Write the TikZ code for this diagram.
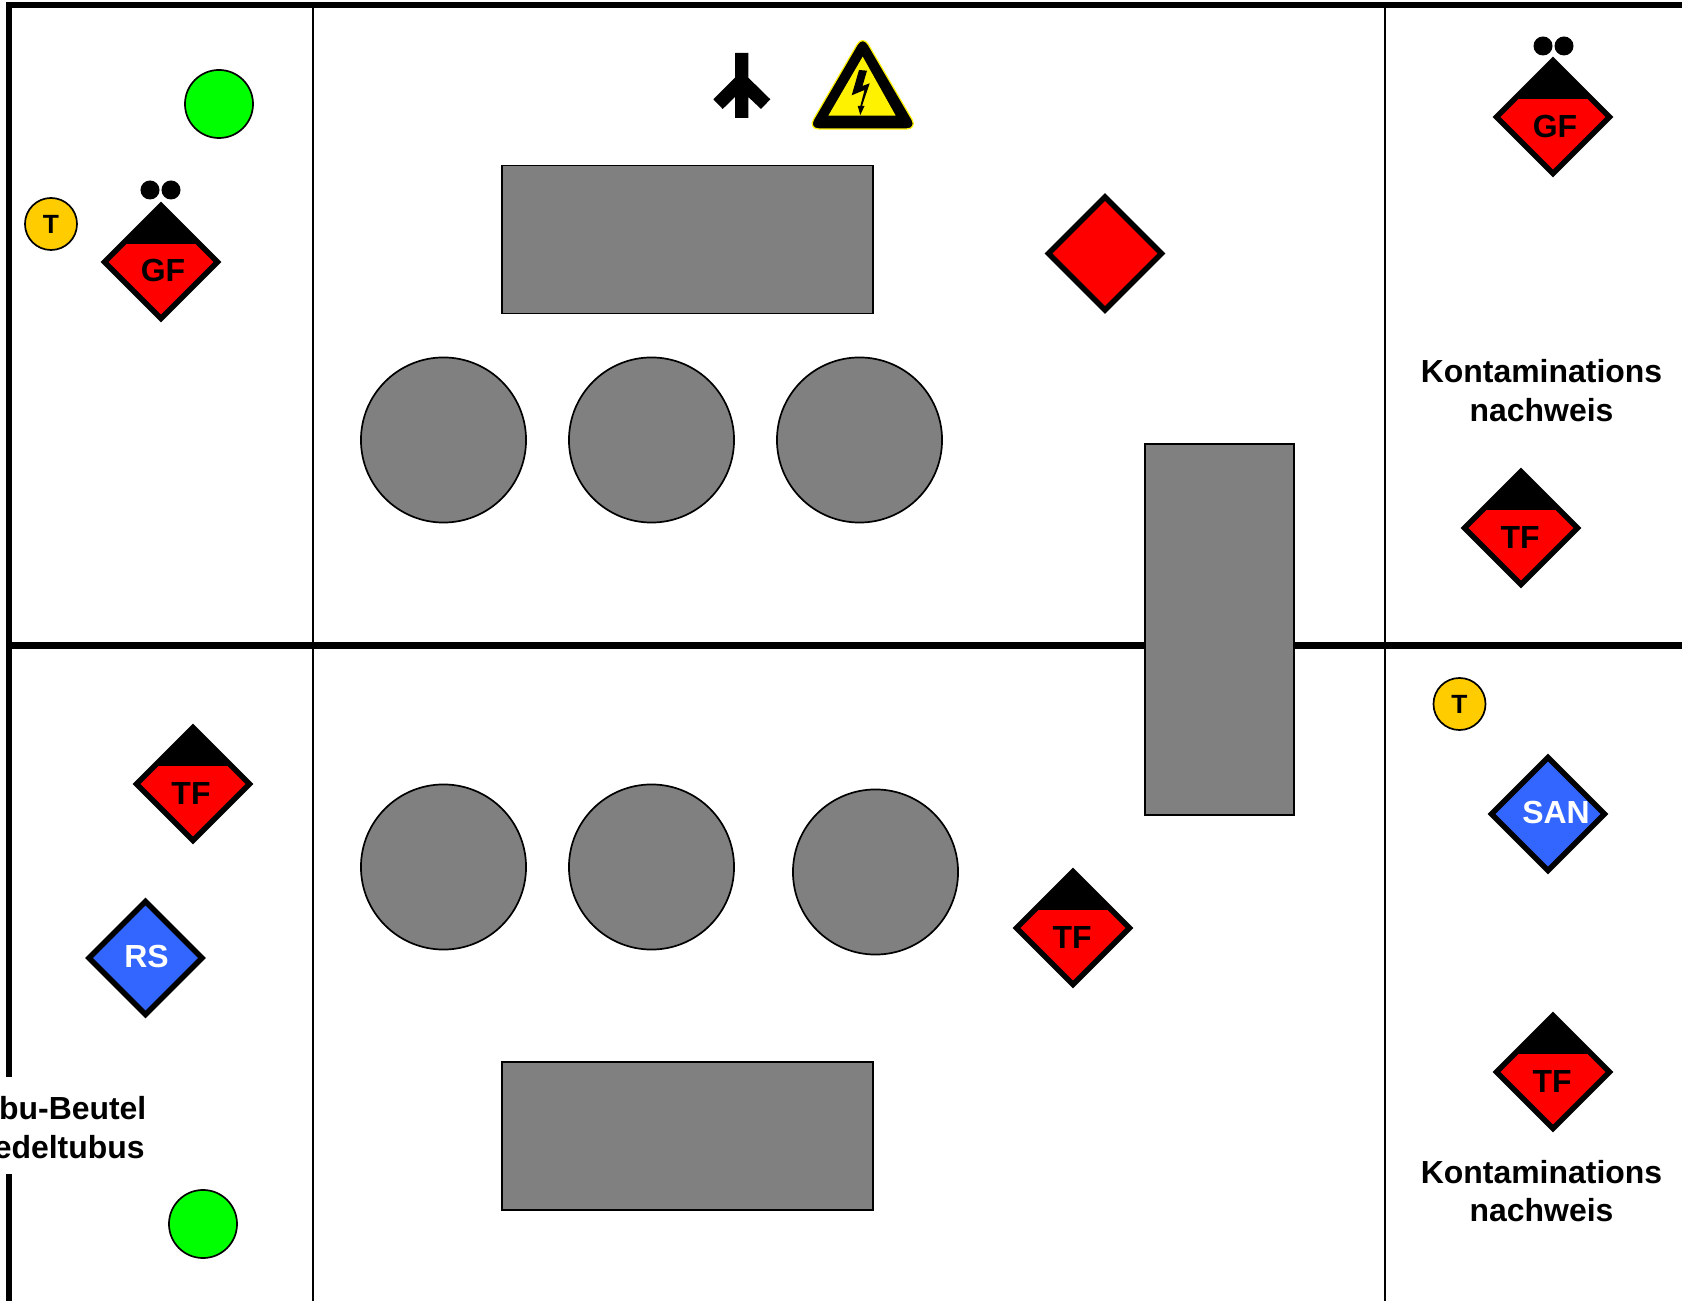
\documentclass[tikz,border=0pt]{standalone}
\usepackage{fontspec}
\setmainfont{Liberation Sans}
\usetikzlibrary{calc,shapes.geometric}
\definecolor{gold}{HTML}{FFCC00}
\definecolor{rsblue}{HTML}{3366FF}
\definecolor{limegreen}{HTML}{00FF00}

\begin{document}
\begin{tikzpicture}[
		x=0.01cm,y=-0.01cm,
		wall/.style={line width=0.055cm},
		midwall/.style={line width=0.075cm},
		thinwall/.style={line width=0.015cm},
		furniture/.style={fill=gray,draw=black,line width=0.017cm},
		bed/.style={circle,furniture,inner sep=0pt,minimum size=1.65cm},
		post/.style={diamond,aspect=1,draw=black,line width=0.055cm,inner sep=0pt,outer sep=0pt,minimum size=1.13cm},
		crew/.style={post,fill=red,path picture={\fill[black] ([yshift=0.18cm]path picture bounding box.west) rectangle (path picture bounding box.north east);}},
		medic/.style={post,fill=rsblue},
		dot/.style={circle,fill=black,inner sep=0pt,minimum size=0.19cm},
		lamp/.style={circle,fill=limegreen,draw=black,line width=0.017cm,inner sep=0pt,minimum size=0.68cm},
		phone/.style={circle,fill=gold,draw=black,line width=0.017cm,inner sep=0pt,minimum size=0.52cm,font=\fontsize{7.5pt}{9pt}\selectfont\bfseries},
		tag/.style={inner sep=0pt,font=\fontsize{9.08pt}{11pt}\selectfont\bfseries},
		note/.style={tag,align=center},
		]
		\useasboundingbox (0,0) rectangle (1682,1301);
		\fill[white] (0,0) rectangle (1682,1301);

		\draw[thinwall] (313,5) -- (313,1301);
		\draw[thinwall] (1385,5) -- (1385,1301);
		\draw[wall] (9,1077) -- (9,5) -- (1682,5);
		\draw[wall] (9,1174) -- (9,1301);
		\draw[midwall] (9,645.5) -- (1682,645.5);

		\draw[furniture] (502,165.5) rectangle (873,313.5);
		\draw[furniture] (502,1062) rectangle (873,1210);
		\draw[furniture] (1145,444) rectangle (1294,815);

		\node[bed](b1) at (443.5,440) {};
		\node[bed](b2) at (651.5,440) {};
		\node[bed](b3) at (859.5,440) {};
		\node[bed](b4) at (443.5,867) {};
		\node[bed](b5) at (651.5,867) {};
		\node[bed](b6) at (875.5,872) {};

		\node[lamp](l1) at (219,104) {};
		\node[lamp](l2) at (203,1224) {};
		\node[phone](t1) at (51,224) {T};
		\node[phone](t2) at (1459.5,704) {T};

		\node[crew](gf1) at (161,262) {};
		\node[tag](gf1t) at ([shift={(2,9)}]gf1) {GF};
		\node[dot](d1) at (150,190) {};
		\node[dot](d2) at (171,190) {};
		\node[crew](gf2) at (1553,117) {};
		\node[tag](gf2t) at ([shift={(2,10)}]gf2) {GF};
		\node[dot](d3) at (1543,46) {};
		\node[dot](d4) at (1564,46) {};

		\node[crew](tf1) at (1521,528) {};
		\node[tag](tf1t) at ([shift={(-1,10)}]tf1) {TF};
		\node[crew](tf2) at (193,784) {};
		\node[tag](tf2t) at ([shift={(-2,10)}]tf2) {TF};
		\node[crew](tf3) at (1073,928) {};
		\node[tag](tf3t) at ([shift={(-1,10)}]tf3) {TF};
		\node[crew](tf4) at (1553,1072) {};
		\node[tag](tf4t) at ([shift={(-1,10)}]tf4) {TF};

		\node[post,fill=red](alarm) at (1105,253.5) {};
		\node[medic](rs) at (145.5,958) {};
		\node[tag,white](rst) at ([shift={(1,-1)}]rs) {RS};
		\node[medic](san) at (1548,814) {};
		\node[tag,white](sant) at ([shift={(8,-1)}]san) {SAN};

		\node[note](k1) at (1541.5,390.5) {Kontaminations\\nachweis};
		\node[note](k2) at (1541.5,1191) {Kontaminations\\nachweis};
		\node[note](bag) at (47,1127.5) {Ambu-Beutel\\Guedeltubus};

		% gas outlet
		\fill[black] (735,53) -- (748.3,53) -- (748.3,77.7) -- (770.3,99.3) -- (761,109) -- (748.3,97) -- (748.3,118) -- (735,118) -- (735,97) -- (722.7,109) -- (713.3,99.3) -- (735,77.7) -- cycle;

		% high voltage sign
		\draw[fill=black,draw=yellow,line width=0.012cm,rounded corners=0.11cm] (862.7,35) -- (917.5,129) -- (808,129) -- cycle;
		\fill[yellow] (862.7,56.7) -- (895.7,115.7) -- (828.3,115.7) -- cycle;
		\fill[black] (859,70) -- (867,70.7) -- (862.5,86) -- (869.7,83.3) -- (862,106) -- (864.5,106) -- (860.3,115) -- (857.7,106) -- (860.3,106) -- (864.5,90) -- (851.7,95.3) -- cycle;
	\end{tikzpicture}
\end{document}
